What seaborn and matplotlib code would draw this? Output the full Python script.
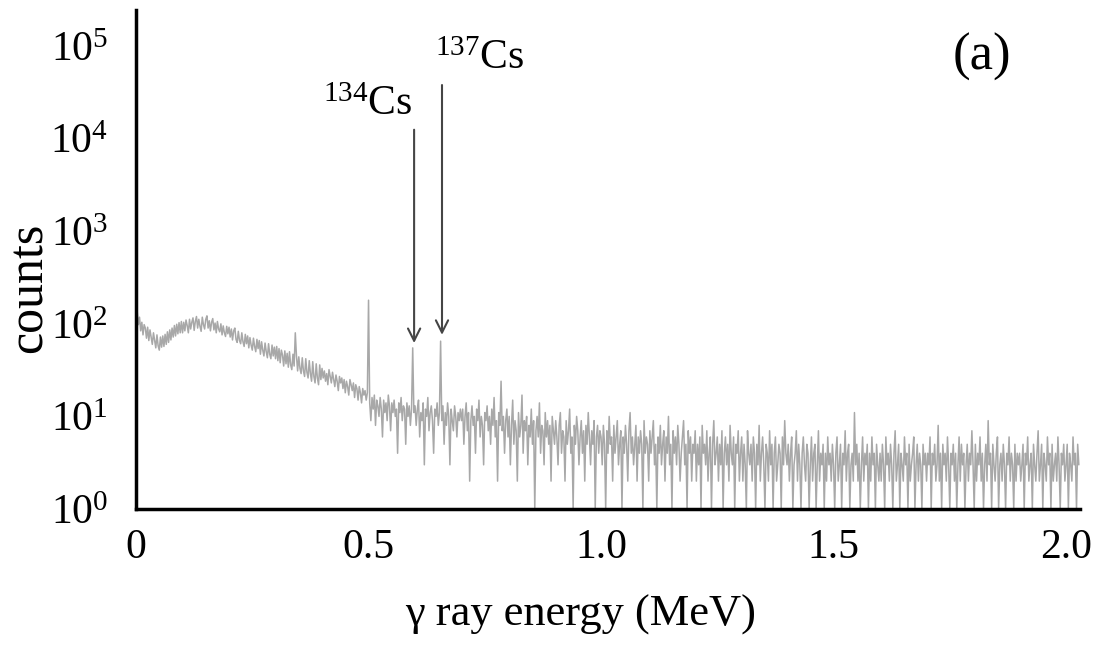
import numpy as np
import pandas as pd
import matplotlib
matplotlib.use("Agg")
import matplotlib.pyplot as plt
import seaborn as sns

# ---- data (counts, 2.5 keV channels, one list per 0.1 MeV) ----
energy_step = 0.0025
counts_0_0 = [172, 135, 98, 118, 84, 104, 76, 98, 90, 70, 92, 66, 86, 72, 60, 80, 66, 55, 76, 58,
              52, 72, 56, 74, 57, 77, 60, 82, 63, 86, 67, 90, 72, 96, 74, 99, 78, 103, 80, 106]
counts_0_1 = [80, 104, 84, 110, 96, 80, 112, 88, 104, 116, 85, 106, 120, 90, 112, 94, 83, 118, 98, 88,
              112, 122, 90, 108, 84, 104, 114, 86, 102, 80, 106, 88, 82, 100, 76, 95, 80, 73, 94, 78]
counts_0_2 = [92, 72, 88, 67, 84, 90, 68, 63, 83, 66, 61, 80, 64, 57, 77, 61, 74, 55, 71, 59,
              52, 70, 57, 50, 68, 54, 66, 47, 64, 52, 45, 62, 50, 43, 61, 47, 42, 59, 45, 56]
counts_0_3 = [42, 57, 40, 54, 38, 52, 46, 35, 51, 37, 48, 34, 50, 36, 32, 47, 35, 80, 45, 31,
              44, 33, 29, 43, 31, 27, 42, 30, 26, 40, 29, 24, 39, 27, 23, 37, 26, 22, 36, 25]
counts_0_4 = [33, 26, 31, 24, 29, 22, 32, 27, 23, 30, 25, 21, 28, 24, 19, 27, 23, 26, 20, 25,
              18, 24, 21, 17, 25, 22, 19, 23, 16, 22, 20, 15, 21, 18, 14, 20, 17, 19, 15, 18]
counts_0_5 = [180, 14, 9, 16, 12, 17, 8, 15, 13, 10, 16, 12, 6, 15, 11, 14, 9, 17, 13, 7,
              14, 11, 15, 10, 12, 4, 14, 11, 16, 9, 13, 12, 5, 14, 10, 13, 8, 12, 55, 11]
counts_0_6 = [13, 8, 12, 15, 6, 11, 9, 14, 3, 12, 10, 16, 7, 11, 13, 9, 4, 12, 10, 14,
              8, 11, 65, 9, 13, 5, 11, 8, 14, 10, 3, 12, 9, 7, 13, 10, 6, 11, 9, 12]
counts_0_7 = [9, 12, 5, 10, 14, 7, 11, 2, 9, 13, 8, 10, 4, 12, 9, 15, 6, 10, 8, 3,
              11, 9, 13, 7, 10, 5, 12, 8, 16, 6, 9, 2, 11, 8, 24, 7, 10, 4, 9, 12]
counts_0_8 = [6, 10, 3, 8, 15, 5, 9, 7, 2, 11, 6, 8, 17, 4, 9, 7, 10, 3, 8, 6,
              12, 5, 9, 1, 7, 10, 6, 14, 4, 8, 7, 3, 11, 6, 9, 5, 8, 2, 10, 7]
counts_0_9 = [5, 9, 6, 3, 8, 11, 4, 7, 6, 2, 9, 5, 7, 12, 4, 6, 1, 8, 5, 10,
              7, 3, 6, 9, 4, 7, 2, 8, 5, 11, 6, 3, 7, 5, 9, 1, 6, 8, 4, 7]
counts_1_0 = [6, 3, 8, 5, 1, 7, 4, 10, 5, 6, 2, 8, 4, 6, 9, 3, 5, 7, 1, 6,
              4, 8, 5, 2, 7, 11, 4, 6, 3, 5, 8, 2, 6, 4, 7, 5, 1, 9, 4, 6]
counts_1_1 = [5, 2, 7, 4, 6, 9, 3, 5, 1, 6, 4, 8, 3, 5, 7, 2, 6, 4, 10, 3,
              5, 1, 7, 4, 6, 3, 8, 5, 2, 4, 6, 9, 3, 5, 1, 7, 4, 6, 2, 5]
counts_1_2 = [4, 7, 2, 5, 3, 6, 1, 8, 4, 5, 3, 7, 2, 4, 6, 1, 5, 9, 3, 4,
              6, 2, 5, 3, 7, 1, 4, 6, 3, 5, 2, 8, 4, 3, 6, 1, 5, 4, 7, 2]
counts_1_3 = [4, 6, 2, 5, 3, 1, 7, 4, 3, 5, 2, 6, 4, 1, 5, 3, 8, 2, 4, 6,
              3, 1, 5, 4, 2, 7, 3, 5, 1, 4, 6, 2, 3, 5, 4, 1, 6, 3, 9, 4]
counts_1_4 = [3, 5, 2, 4, 6, 1, 3, 4, 7, 2, 5, 3, 1, 4, 6, 3, 2, 5, 4, 1,
              3, 6, 2, 4, 5, 1, 3, 7, 2, 4, 3, 5, 1, 4, 2, 6, 3, 4, 2, 5]
counts_1_5 = [3, 1, 4, 6, 2, 3, 5, 1, 4, 3, 7, 2, 4, 5, 1, 3, 4, 2, 11, 3,
              5, 2, 4, 1, 3, 6, 2, 4, 3, 5, 1, 4, 2, 6, 3, 4, 1, 5, 3, 2]
counts_1_6 = [4, 2, 5, 3, 1, 6, 3, 4, 2, 5, 3, 1, 4, 7, 2, 3, 5, 1, 4, 3,
              2, 6, 3, 4, 1, 5, 2, 3, 4, 6, 1, 3, 5, 2, 4, 3, 1, 5, 3, 4]
counts_1_7 = [2, 4, 3, 6, 1, 4, 3, 5, 2, 3, 8, 2, 4, 1, 5, 3, 4, 2, 6, 3,
              1, 4, 3, 5, 2, 4, 1, 3, 6, 2, 5, 3, 4, 1, 3, 5, 2, 4, 3, 7]
counts_1_8 = [3, 1, 5, 2, 4, 3, 6, 2, 4, 1, 3, 5, 2, 9, 3, 4, 1, 5, 3, 2,
              4, 6, 1, 3, 4, 2, 5, 3, 1, 4, 3, 6, 2, 4, 3, 1, 5, 2, 4, 3]
counts_1_9 = [4, 2, 3, 5, 1, 4, 3, 6, 2, 3, 4, 1, 5, 3, 2, 4, 7, 2, 3, 5,
              1, 4, 3, 2, 6, 3, 4, 1, 5, 2, 3, 4, 2, 6, 3, 1, 4, 3, 5, 2]
counts_2_0 = [3, 5, 1, 4, 3, 2, 6, 3, 4, 1, 5, 3]

peak_labels = [r"$^{134}$Cs", r"$^{137}$Cs"]
arrow_energy = [0.598, 0.658]
arrow_tip = [62, 76]
arrow_tail = [12500, 38000]
label_x = [0.5935, 0.643]
label_y = [18000, 56000]
label_ha = ["right", "left"]

x_ticks = [0, 0.5, 1.0, 1.5, 2.0]
x_ticklabels = ["0", "0.5", "1.0", "1.5", "2.0"]
y_ticks = [1e0, 1e1, 1e2, 1e3, 1e4, 1e5]

counts = (counts_0_0 + counts_0_1 + counts_0_2 + counts_0_3 + counts_0_4 + counts_0_5
          + counts_0_6 + counts_0_7 + counts_0_8 + counts_0_9 + counts_1_0 + counts_1_1
          + counts_1_2 + counts_1_3 + counts_1_4 + counts_1_5 + counts_1_6 + counts_1_7
          + counts_1_8 + counts_1_9 + counts_2_0)
energy = np.round(np.arange(len(counts)) * energy_step, 4)
df = pd.DataFrame({"energy": energy, "counts": counts})

# ---- style ----
sns.set_theme(style="white")
plt.rcParams["font.family"] = ["Liberation Serif", "DejaVu Serif"]
plt.rcParams["mathtext.fontset"] = "custom"
plt.rcParams["mathtext.rm"] = "Liberation Serif"
plt.rcParams["mathtext.it"] = "Liberation Serif:italic"
plt.rcParams["mathtext.bf"] = "Liberation Serif:bold"

fig = plt.figure(figsize=(10.97, 6.46), dpi=100)
ax = fig.add_axes([0.124, 0.2121, 0.8605, 0.7724])

sns.lineplot(data=df, x="energy", y="counts", ax=ax, color="#a8a8a8", lw=1.1,
             estimator=None, sort=False)

ax.set_yscale("log")
ax.set_xlim(0, 2.03)
ax.set_ylim(1, 10 ** 5.39)
ax.set_xticks(x_ticks)
ax.set_xticklabels(x_ticklabels)
ax.set_yticks(y_ticks)
ax.yaxis.set_minor_locator(matplotlib.ticker.NullLocator())
ax.tick_params(axis="both", length=0, labelsize=30, colors="black")
ax.tick_params(axis="y", pad=20)
ax.tick_params(axis="x", pad=14)

for s in ["top", "right"]:
    ax.spines[s].set_visible(False)
for s in ["left", "bottom"]:
    ax.spines[s].set_color("black")
    ax.spines[s].set_linewidth(2.5)

ax.set_xlabel("γ ray energy (MeV)", fontsize=32, color="black")
ax.xaxis.label.set_va("center")
ax.xaxis.set_label_coords(0.471, -0.2124)
ax.set_ylabel("counts", fontsize=36, color="black")
ax.yaxis.label.set_va("center")
ax.yaxis.set_label_coords(-0.113, 0.443)

for lab, e, tip, tail, lx, ly, ha in zip(peak_labels, arrow_energy, arrow_tip, arrow_tail,
                                         label_x, label_y, label_ha):
    ax.annotate("", xy=(e, tip), xytext=(e, tail),
                arrowprops=dict(arrowstyle="->", color="#454545", lw=1.5,
                                mutation_scale=22, shrinkA=0, shrinkB=0))
    ax.text(lx, ly, lab, fontsize=30, ha=ha, va="baseline", color="black")

ax.text(1.819, 10 ** 4.88, "(a)", fontsize=38, ha="center", va="center", color="black")

fig.savefig("out.png", dpi=100)
